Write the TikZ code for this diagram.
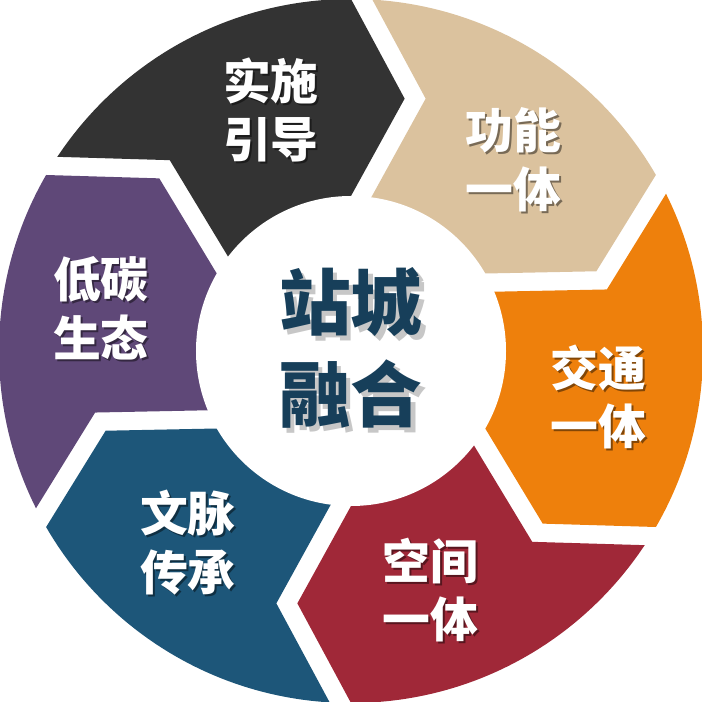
\documentclass[tikz,border=0pt]{standalone}
\usepackage{fontspec}
\newfontfamily\cjk{Noto Sans CJK SC}
\usetikzlibrary{calc}
\definecolor{cdark}{HTML}{333333}
\definecolor{cbeige}{HTML}{DBC29E}
\definecolor{corange}{HTML}{EE800C}
\definecolor{cred}{HTML}{A02838}
\definecolor{cblue}{HTML}{1D5679}
\definecolor{cpurple}{HTML}{5F4878}
\definecolor{ctitle}{HTML}{173F5A}
\tikzset{
  seglabel/.style={text=white, inner sep=0pt, align=center,
    font=\cjk\bfseries\fontsize{48}{59}\selectfont},
  segshadow/.style={seglabel, text=black, opacity=0.45},
  title/.style={text=ctitle, inner sep=0pt, align=center,
    font=\cjk\bfseries\fontsize{72}{92}\selectfont},
  titleshadow/.style={title, text=black, opacity=0.22}
}
\begin{document}
\begin{tikzpicture}[x=1bp,y=1bp]
\useasboundingbox (-351,-351) rectangle (351,351);
\def\R{352}\def\r{155}\def\T{258}\def\g{21}
\begin{scope}
\clip (0,0) circle (\R);
\foreach \i/\col in {0/cdark,1/cbeige,2/corange,3/cred,4/cblue,5/cpurple}{
  \pgfmathsetmacro\ts{150-60*\i}
  \pgfmathsetmacro\te{\ts-60}
  \pgfmathsetmacro\tst{\ts-12}
  \pgfmathsetmacro\tet{\te-12}
  \pgfmathsetmacro\tn{\ts-90}
  \pgfmathsetmacro\tm{\ts-30}
  \coordinate (So) at ($(\ts:\R)+(\tn:\g)$);
  \coordinate (St) at ($(\tst:\T)+(\tn:\g)$);
  \coordinate (Si) at ($(\ts:\r)+(\tn:\g)$);
  \coordinate (Eo) at (\te:\R);
  \coordinate (Et) at (\tet:\T);
  \coordinate (Ei) at (\te:\r);
  \fill[\col] ($(Si)!-0.5!(St)$) -- (Si) -- (St) -- (So) -- ($(So)!-0.5!(St)$)
     -- (\ts:600) -- (\tm:700) -- (\te:600) -- ($(Eo)!-0.5!(Et)$)
     -- (Eo) -- (Et) -- (Ei) -- ($(Ei)!-0.5!(Et)$) -- (0,0) -- cycle;
}
\end{scope}
\fill[white] (0,0) circle (\r);
% segment labels
\foreach \n/\x/\y/\txt in {a/-80/241/{实施\\引导}, b/162/191/{功能\\一体},
  c/247/-46/{交通\\一体}, d/79/-239/{空间\\一体}, e/-163/-192/{文脉\\传承},
  f/-250/43/{低碳\\生态}}{
  \node[segshadow] (\n s) at (\x+2,\y-2) {\txt};
  \node[seglabel] (\n) at (\x,\y) {\txt};
}
% centre title with soft shadow
\node[titleshadow] (centers) at (4,-2) {站城\\融合};
\node[title] (center) at (0,3) {站城\\融合};
\end{tikzpicture}
\end{document}
